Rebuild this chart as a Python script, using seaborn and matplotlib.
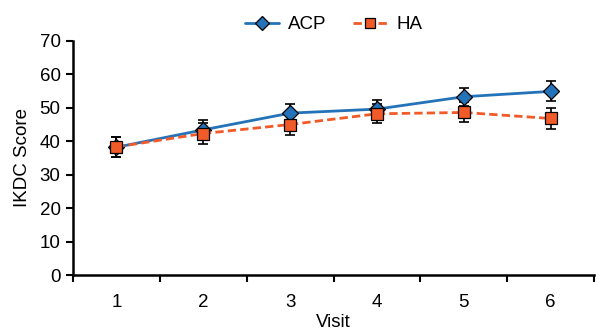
import matplotlib
matplotlib.use("Agg")
import matplotlib.pyplot as plt
import seaborn as sns
import pandas as pd

visits = [1, 2, 3, 4, 5, 6]
acp_mean = [38.2, 43.4, 48.4, 49.6, 53.3, 54.9]
acp_err = [3.0, 3.0, 2.6, 2.8, 2.7, 3.0]
ha_mean = [38.3, 42.3, 45.0, 48.2, 48.6, 46.8]
ha_err = [3.0, 3.0, 3.0, 2.9, 3.0, 3.0]
y_ticks = [0, 10, 20, 30, 40, 50, 60, 70]

sns.set_theme(style="ticks")
plt.rcParams['font.family'] = ['Liberation Sans', 'DejaVu Sans']
plt.rcParams['text.color'] = 'black'
plt.rcParams['axes.labelcolor'] = 'black'
plt.rcParams['xtick.color'] = 'black'
plt.rcParams['ytick.color'] = 'black'

df = pd.DataFrame({
    "Visit": visits * 2,
    "Score": acp_mean + ha_mean,
    "Group": ["ACP"] * 6 + ["HA"] * 6,
})

blue = "#2473b9"
orange = "#f15a29"
fs = 13.5

fig = plt.figure(figsize=(5.97, 3.34), dpi=100)
ax = fig.add_axes([0.1223, 0.1766, 0.8727, 0.701])

ax.errorbar(visits, acp_mean, yerr=acp_err, fmt="none", ecolor="black",
            elinewidth=1.2, capsize=3.5, capthick=1.2, zorder=2)
ax.errorbar(visits, ha_mean, yerr=ha_err, fmt="none", ecolor="black",
            elinewidth=1.2, capsize=3.5, capthick=1.2, zorder=2)

sns.lineplot(data=df, x="Visit", y="Score", hue="Group", style="Group",
             palette={"ACP": blue, "HA": orange},
             markers={"ACP": "D", "HA": "s"},
             dashes={"ACP": "", "HA": (3, 1.5)},
             markersize=8, markeredgecolor="black", markeredgewidth=0.9,
             linewidth=2, ax=ax, zorder=3)

ax.set_xlim(0.5, 6.5)
ax.set_ylim(0, 70)
ax.set_yticks(y_ticks)
ax.set_xticks([0.5, 1.5, 2.5, 3.5, 4.5, 5.5, 6.5])
ax.set_xticklabels([])
ax.set_xticks(visits, minor=True)
ax.set_xticklabels([str(v) for v in visits], minor=True, fontsize=fs)
ax.tick_params(axis="x", which="minor", length=0, pad=14)
ax.tick_params(axis="x", which="major", length=5, width=1.5, direction="out")
ax.tick_params(axis="y", length=5, width=1.5, labelsize=fs, pad=4)
for s in ["left", "bottom"]:
    ax.spines[s].set_linewidth(1.8)
    ax.spines[s].set_color("black")
sns.despine(ax=ax)
ax.set_xlabel("Visit", fontsize=fs, labelpad=2)
ax.set_ylabel("IKDC Score", fontsize=fs, labelpad=6)

h, l = ax.get_legend_handles_labels()
for hh in h:
    hh.set_markersize(7)
ax.legend(h, l, loc="lower center", bbox_to_anchor=(0.5, 1.0), ncol=2,
          frameon=False, fontsize=fs, handlelength=1.8, columnspacing=1.4,
          handletextpad=0.5, borderaxespad=0.0)

fig.savefig("out.png", dpi=100)
